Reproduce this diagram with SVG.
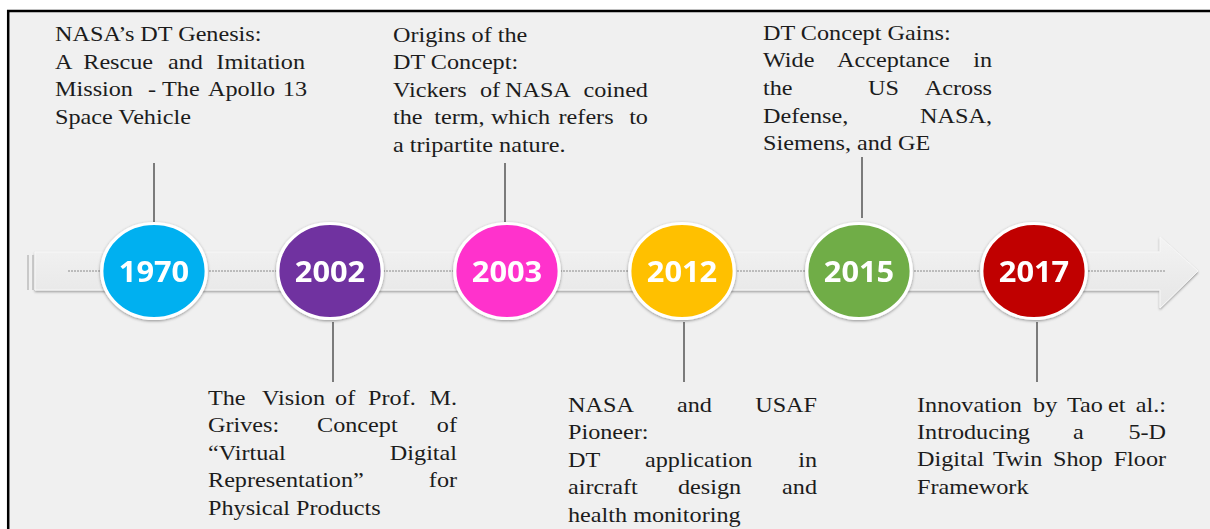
<svg xmlns="http://www.w3.org/2000/svg" width="1210" height="529" viewBox="0 0 1210 529">
  <style>
    .desc { font-family: "Liberation Serif", "Times New Roman", serif; font-size: 22px; fill: #1c1c1c; }
    .year { font-family: "Open Sans", "Noto Sans", sans-serif; font-weight: 700; font-size: 28px; fill: #ffffff; text-anchor: middle; }
    .dot { stroke: #ffffff; stroke-width: 3; }
    .stem { stroke: #555555; stroke-width: 1.5; fill: none; }
  </style>
  <defs>
    <filter id="soft" x="-20%" y="-20%" width="140%" height="140%">
      <feDropShadow dx="0" dy="1" stdDeviation="1.6" flood-color="#000000" flood-opacity="0.4"/>
    </filter>
    <filter id="barShadow" x="-5%" y="-30%" width="110%" height="160%">
      <feDropShadow dx="0" dy="1.5" stdDeviation="1" flood-color="#000000" flood-opacity="0.35"/>
    </filter>
    <linearGradient id="barFill" x1="0" y1="0" x2="0" y2="1">
      <stop offset="0" stop-color="#f3f3f3"/>
      <stop offset="1" stop-color="#e6e6e6"/>
    </linearGradient>
  </defs>

  <!-- page and frame -->
  <rect x="0" y="0" width="1210" height="529" fill="#ffffff"/>
  <rect x="8" y="11" width="1202" height="518" fill="#f0f0f0"/>
  <line x1="7" y1="11" x2="1210" y2="11" stroke="#000000" stroke-width="2.5"/>
  <line x1="8.2" y1="10" x2="8.2" y2="529" stroke="#000000" stroke-width="2.5"/>

  <!-- timeline arrow -->
  <g id="timeline">
    <path d="M35,252 H1160 V237 L1198,271 L1160,308 V290 H35 Z" fill="url(#barFill)" stroke="#f7f7f7" stroke-width="1" filter="url(#barShadow)"/>
    <line x1="28" y1="255" x2="28" y2="290" stroke="#bdbdbd" stroke-width="1.5"/>
    <line x1="33" y1="255" x2="33" y2="290" stroke="#bdbdbd" stroke-width="1.5"/>
    <line x1="68" y1="271" x2="1165" y2="271" stroke="#8a8a8a" stroke-width="1" stroke-dasharray="2 1"/>
  </g>

  <!-- connectors from the year markers to their captions -->
  <g id="connectors">
    <line class="stem" x1="154" y1="163" x2="154" y2="222"/>
    <line class="stem" x1="333" y1="322" x2="333" y2="382"/>
    <line class="stem" x1="505" y1="163" x2="505" y2="222"/>
    <line class="stem" x1="684" y1="322" x2="684" y2="382"/>
    <line class="stem" x1="862" y1="157" x2="862" y2="218"/>
    <line class="stem" x1="1037" y1="322" x2="1037" y2="382"/>
  </g>

  <!-- 1970 -->
  <g id="n1970">
    <g transform="translate(154,271) scale(1.1,1)" filter="url(#soft)">
      <circle class="dot" r="47.5" fill="#00b0f0"/>
      <text class="year" y="10.5">1970</text>
    </g>
    <g transform="translate(55,0) scale(1.1,1)">
      <text class="desc" x="0" y="41.5">NASA’s DT Genesis:</text>
      <text class="desc" y="69"><tspan x="0">A</tspan><tspan x="25.7">Rescue</tspan><tspan x="102.7">and</tspan><tspan x="227.3" text-anchor="end">Imitation</tspan></text>
      <text class="desc" y="96.5"><tspan x="0">Mission</tspan><tspan x="84.5">-</tspan><tspan x="97.3">The</tspan><tspan x="139.1">Apollo</tspan><tspan x="229.1" text-anchor="end">13</tspan></text>
      <text class="desc" x="0" y="124">Space Vehicle</text>
    </g>
  </g>

  <!-- 2002 -->
  <g id="n2002">
    <g transform="translate(330,271) scale(1.1,1)" filter="url(#soft)">
      <circle class="dot" r="47.5" fill="#7030a0"/>
      <text class="year" y="10.5">2002</text>
    </g>
    <g transform="translate(208,0) scale(1.1,1)">
      <text class="desc" y="405"><tspan x="0">The</tspan><tspan x="49.1">Vision</tspan><tspan x="115.5">of</tspan><tspan x="145.5">Prof.</tspan><tspan x="226.4" text-anchor="end">M.</tspan></text>
      <text class="desc" y="432.5"><tspan x="0">Grives:</tspan><tspan x="99.1">Concept</tspan><tspan x="226.4" text-anchor="end">of</tspan></text>
      <text class="desc" y="460"><tspan x="0">“Virtual</tspan><tspan x="226.4" text-anchor="end">Digital</tspan></text>
      <text class="desc" y="487.5"><tspan x="0">Representation”</tspan><tspan x="226.4" text-anchor="end">for</tspan></text>
      <text class="desc" x="0" y="515">Physical Products</text>
    </g>
  </g>

  <!-- 2003 -->
  <g id="n2003">
    <g transform="translate(507,271) scale(1.1,1)" filter="url(#soft)">
      <circle class="dot" r="47.5" fill="#ff33cc"/>
      <text class="year" y="10.5">2003</text>
    </g>
    <g transform="translate(393,0) scale(1.1,1)">
      <text class="desc" x="0" y="42">Origins of the</text>
      <text class="desc" x="0" y="69.5">DT Concept:</text>
      <text class="desc" y="97"><tspan x="0">Vickers</tspan><tspan x="79.1">of</tspan><tspan x="101.8">NASA</tspan><tspan x="231.8" text-anchor="end">coined</tspan></text>
      <text class="desc" y="124.5"><tspan x="0">the</tspan><tspan x="37.5">term,</tspan><tspan x="89">which</tspan><tspan x="150.5">refers</tspan><tspan x="231.8" text-anchor="end">to</tspan></text>
      <text class="desc" x="0" y="152">a tripartite nature.</text>
    </g>
  </g>

  <!-- 2012 -->
  <g id="n2012">
    <g transform="translate(682,271) scale(1.1,1)" filter="url(#soft)">
      <circle class="dot" r="47.5" fill="#ffc000"/>
      <text class="year" y="10.5">2012</text>
    </g>
    <g transform="translate(568,0) scale(1.1,1)">
      <text class="desc" y="412"><tspan x="0">NASA</tspan><tspan x="99.1">and</tspan><tspan x="226.4" text-anchor="end">USAF</tspan></text>
      <text class="desc" x="0" y="439.5">Pioneer:</text>
      <text class="desc" y="467"><tspan x="0">DT</tspan><tspan x="70">application</tspan><tspan x="226.4" text-anchor="end">in</tspan></text>
      <text class="desc" y="494.5"><tspan x="0">aircraft</tspan><tspan x="100">design</tspan><tspan x="226.4" text-anchor="end">and</tspan></text>
      <text class="desc" x="0" y="522">health monitoring</text>
    </g>
  </g>

  <!-- 2015 -->
  <g id="n2015">
    <g transform="translate(859,271) scale(1.1,1)" filter="url(#soft)">
      <circle class="dot" r="47.5" fill="#70ad47"/>
      <text class="year" y="10.5">2015</text>
    </g>
    <g transform="translate(763,0) scale(1.1,1)">
      <text class="desc" x="0" y="40">DT Concept Gains:</text>
      <text class="desc" y="67.5"><tspan x="0">Wide</tspan><tspan x="67.3">Acceptance</tspan><tspan x="208.2" text-anchor="end">in</tspan></text>
      <text class="desc" y="95.5"><tspan x="0">the</tspan><tspan x="95.5">US</tspan><tspan x="208.2" text-anchor="end">Across</tspan></text>
      <text class="desc" y="123"><tspan x="0">Defense,</tspan><tspan x="208.2" text-anchor="end">NASA,</tspan></text>
      <text class="desc" x="0" y="150.5">Siemens, and GE</text>
    </g>
  </g>

  <!-- 2017 -->
  <g id="n2017">
    <g transform="translate(1034,271) scale(1.1,1)" filter="url(#soft)">
      <circle class="dot" r="47.5" fill="#c00000"/>
      <text class="year" y="10.5">2017</text>
    </g>
    <g transform="translate(917,0) scale(1.1,1)">
      <text class="desc" y="412"><tspan x="0">Innovation</tspan><tspan x="105.5">by</tspan><tspan x="136.4">Tao</tspan><tspan x="173.6">et</tspan><tspan x="226.4" text-anchor="end">al.:</tspan></text>
      <text class="desc" y="439"><tspan x="0">Introducing</tspan><tspan x="141.8">a</tspan><tspan x="226.4" text-anchor="end">5-D</tspan></text>
      <text class="desc" y="466.5"><tspan x="0">Digital</tspan><tspan x="69.1">Twin</tspan><tspan x="123.6">Shop</tspan><tspan x="226.4" text-anchor="end">Floor</tspan></text>
      <text class="desc" x="0" y="494">Framework</text>
    </g>
  </g>
</svg>
